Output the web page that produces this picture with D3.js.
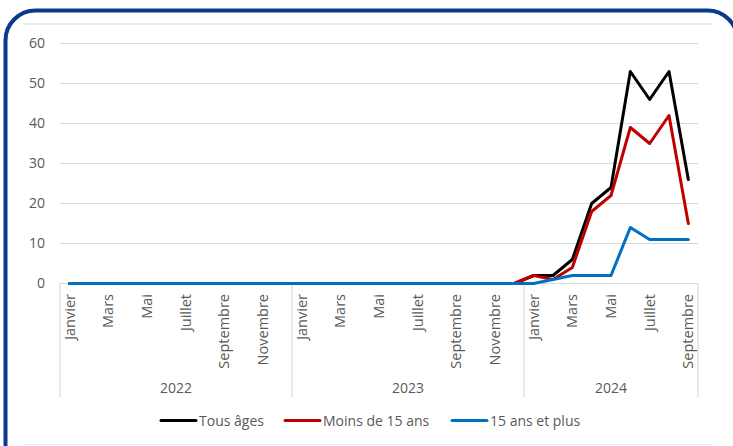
<!DOCTYPE html>
<html><head><meta charset="utf-8">
<script src="https://cdn.jsdelivr.net/npm/d3@7"></script>
<style>html,body{margin:0;padding:0;background:#fff;}svg{display:block;}</style>
</head><body>
<svg id="c" width="733" height="446"></svg>
<script>
const years = ["2022","2023","2024"];
const monthNames = ["Janvier","Février","Mars","Avril","Mai","Juin","Juillet","Août","Septembre","Octobre","Novembre","Décembre"];
const shownMonths = ["Janvier","Mars","Mai","Juillet","Septembre","Novembre"];
const monthsPerYear = [12,12,9];
const tousAges =   [0,0,0,0,0,0,0,0,0,0,0,0, 0,0,0,0,0,0,0,0,0,0,0,0, 2,2,6,20,24,53,46,53,26];
const moins15 =    [0,0,0,0,0,0,0,0,0,0,0,0, 0,0,0,0,0,0,0,0,0,0,0,0, 2,1,4,18,22,39,35,42,15];
const plus15 =     [0,0,0,0,0,0,0,0,0,0,0,0, 0,0,0,0,0,0,0,0,0,0,0,0, 0,1,2,2,2,14,11,11,11];
const yTicks = [0,10,20,30,40,50,60];
const seriesNames = ["Tous âges","Moins de 15 ans","15 ans et plus"];
const seriesColors = ["#000000","#c00000","#0070c0"];

const cats = [];
years.forEach((y,yi)=>{ for(let m=0;m<monthsPerYear[yi];m++) cats.push({year:y, month:monthNames[m], key:y+"-"+m}); });

const svg = d3.select("#c");
const font = "'Open Sans', 'Noto Sans', sans-serif";
const txt = "#595959";
const grid = "#d9d9d9";

// frame
svg.append("rect").attr("x",5.5).attr("y",10.5).attr("width",732).attr("height",470).attr("rx",30)
  .attr("fill","none").attr("stroke","#0a3a8c").attr("stroke-width",4);
svg.append("line").attr("x1",23).attr("x2",712).attr("y1",24).attr("y2",24).attr("stroke","#e3e3e3").attr("stroke-width",1.5);
svg.append("line").attr("x1",23).attr("x2",712).attr("y1",444.5).attr("y2",444.5).attr("stroke","#ececec").attr("stroke-width",1);

const x = d3.scaleBand().domain(cats.map(c=>c.key)).range([60,698]).paddingInner(0).paddingOuter(0);
const y = d3.scaleLinear().domain([0,60]).range([283.5,43.5]);
const cx = k => x(k) + x.bandwidth()/2;

// gridlines
svg.append("g").selectAll("line").data(yTicks.filter(t=>t>0)).join("line")
  .attr("x1",60).attr("x2",698).attr("y1",d=>y(d)).attr("y2",d=>y(d))
  .attr("stroke",grid).attr("stroke-width",1);

// y axis labels
svg.append("g").selectAll("text").data(yTicks).join("text")
  .attr("x",45).attr("y",d=>y(d)).attr("dy","0.35em").attr("text-anchor","end")
  .attr("font-family",font).attr("font-size",14).attr("fill",txt).text(d=>d);

// x axis line
svg.append("line").attr("x1",60).attr("x2",698).attr("y1",283.5).attr("y2",283.5).attr("stroke",grid).attr("stroke-width",1);

// year separators
const seps = [cats[0].key];
let acc=0; monthsPerYear.forEach((n,i)=>{ acc+=n; if(i<monthsPerYear.length-1) seps.push(cats[acc].key); });
const sepX = seps.map(k=>x(k)).concat([698]);
svg.append("g").selectAll("line").data(sepX).join("line")
  .attr("x1",d=>d).attr("x2",d=>d).attr("y1",283.5).attr("y2",397)
  .attr("stroke",grid).attr("stroke-width",1.2);

// month labels
svg.append("g").selectAll("text").data(cats.filter(c=>shownMonths.includes(c.month))).join("text")
  .attr("transform",d=>`translate(${cx(d.key)},294) rotate(-90)`)
  .attr("text-anchor","end").attr("dy","0.35em")
  .attr("font-family",font).attr("font-size",14.5).attr("fill",txt).text(d=>d.month);

// year labels
let start=0;
years.forEach((yr,i)=>{
  const a = x(cats[start].key), b = (i<years.length-1)? x(cats[start+monthsPerYear[i]].key) : 698;
  svg.append("text").attr("x",(a+b)/2).attr("y",393).attr("text-anchor","middle")
    .attr("font-family",font).attr("font-size",14).attr("fill",txt).text(yr);
  start += monthsPerYear[i];
});

// lines
const line = d3.line().x((d,i)=>cx(cats[i].key)).y(d=>y(d));
[tousAges,moins15,plus15].forEach((s,i)=>{
  svg.append("path").datum(s).attr("d",line).attr("fill","none")
    .attr("stroke",seriesColors[i]).attr("stroke-width",3).attr("stroke-linejoin","round").attr("stroke-linecap","round");
});

// legend
const legX = [161,285,452];
seriesNames.forEach((n,i)=>{
  svg.append("line").attr("x1",legX[i]).attr("x2",legX[i]+35).attr("y1",420.5).attr("y2",420.5)
    .attr("stroke",seriesColors[i]).attr("stroke-width",3).attr("stroke-linecap","round");
  svg.append("text").attr("x",legX[i]+38).attr("y",421).attr("dy","0.35em")
    .attr("font-family",font).attr("font-size",14).attr("fill",txt).text(n);
});
</script>
</body></html>
